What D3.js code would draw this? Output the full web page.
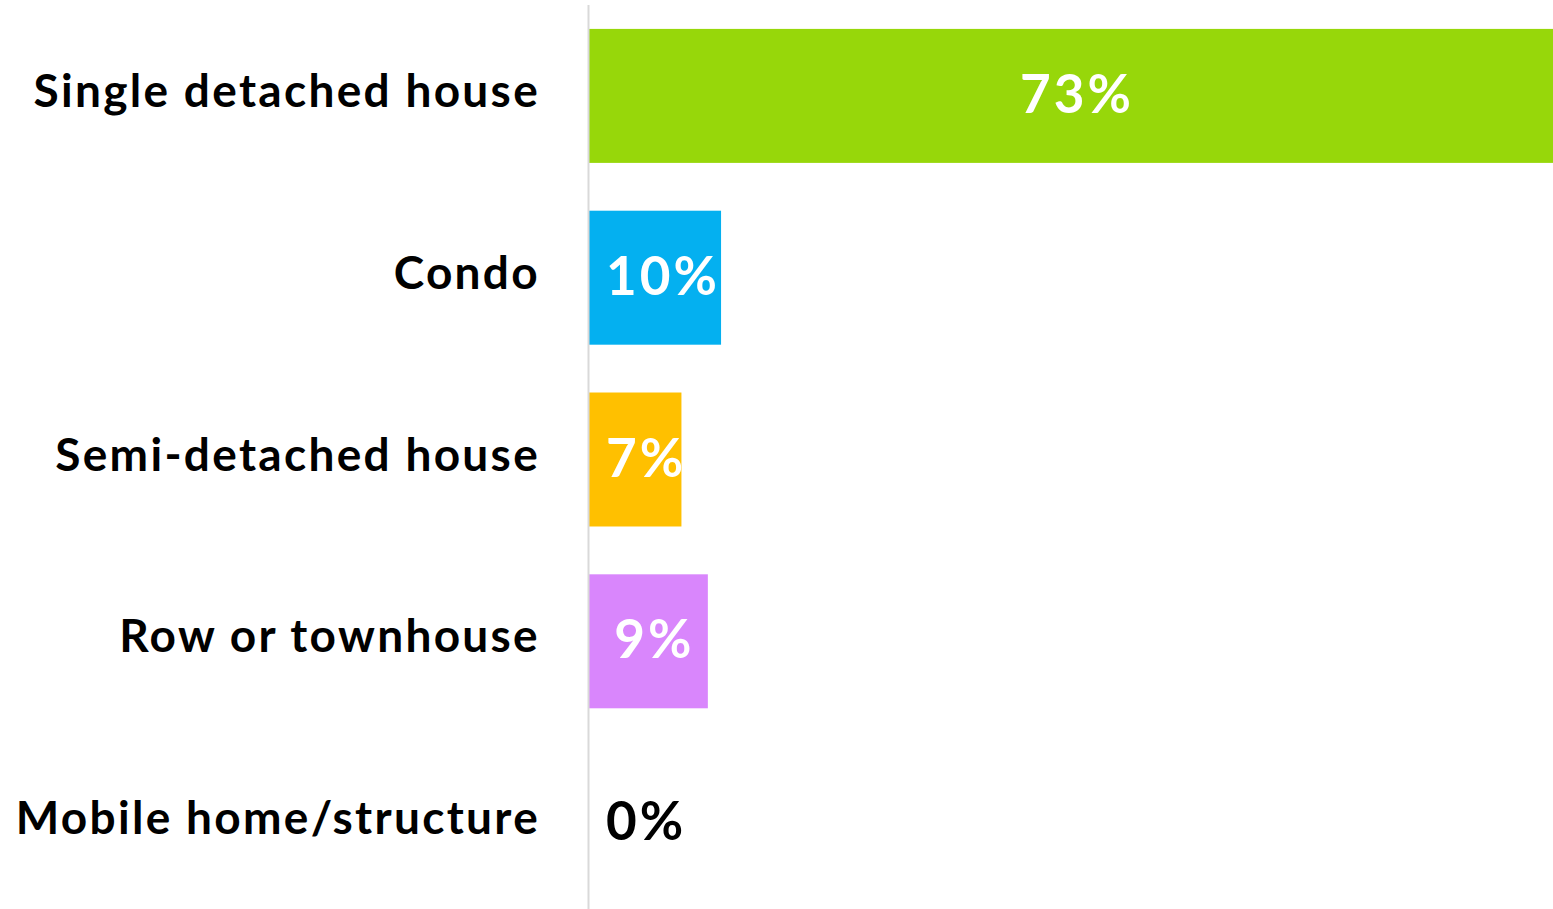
<!DOCTYPE html>
<html>
<head>
<meta charset="utf-8">
<script src="https://cdn.jsdelivr.net/npm/d3@7"></script>
<style>
  html, body { margin: 0; padding: 0; background: #fff; }
  svg { display: block; }
  text { font-family: Lato, "Open Sans", sans-serif; font-weight: 700; }
</style>
</head>
<body>
<svg id="chart"></svg>
<script>
const categories = ["Single detached house", "Condo", "Semi-detached house", "Row or townhouse", "Mobile home/structure"];
const values = [73, 10, 7, 9, 0];
const colors = ["#97d70a", "#04b0f0", "#ffc000", "#d986fc", "#ffffff"];

const width = 1553, height = 909;
const svg = d3.select("#chart").attr("width", width).attr("height", height);

const x = d3.scaleLinear().domain([0, 73]).range([589, 1553]);
const y = d3.scaleBand().domain(categories).range([5, 914])
  .paddingInner(0.263).paddingOuter(0.1315);

const data = categories.map((c, i) => ({cat: c, value: values[i], color: colors[i], i}));

// bars
svg.append("g").selectAll("rect")
  .data(data)
  .enter()
  .append("rect")
  .attr("x", x(0))
  .attr("y", d => y(d.cat))
  .attr("width", d => x(d.value) - x(0))
  .attr("height", y.bandwidth())
  .attr("fill", d => d.color);

// clip paths so labels stay inside their bar
const defs = svg.append("defs");
data.forEach(d => {
  defs.append("clipPath").attr("id", "clip" + d.i)
    .append("rect")
    .attr("x", x(0))
    .attr("y", y(d.cat))
    .attr("width", d.value > 0 ? x(d.value) - x(0) : width)
    .attr("height", y.bandwidth());
});

// axis line
svg.append("line")
  .attr("x1", 588.5).attr("x2", 588.5)
  .attr("y1", 5).attr("y2", height)
  .attr("stroke", "#d9d9d9")
  .attr("stroke-width", 2);

// category labels
svg.append("g").selectAll("text")
  .data(data)
  .enter()
  .append("text")
  .attr("x", 540)
  .attr("y", d => y(d.cat) + y.bandwidth() / 2 + 11)
  .attr("text-anchor", "end")
  .attr("font-size", 46)
  .attr("letter-spacing", 2.3)
  .attr("fill", "#000")
  .text(d => d.cat);

// value labels
const vl = svg.append("g").selectAll("text")
  .data(data)
  .enter()
  .append("text")
  .attr("clip-path", d => `url(#clip${d.i})`)
  .attr("y", d => y(d.cat) + y.bandwidth() / 2 + 17)
  .attr("font-size", 53)
  .attr("letter-spacing", 3)
  .attr("text-anchor", "middle")
  .attr("fill", d => d.value > 0 ? "#fff" : "#000")
  .text(d => d.value + "%");

vl.attr("x", function(d) {
  const w = this.getComputedTextLength();
  const center = (x(0) + x(d.value)) / 2 + 6;
  return Math.max(center, x(0) + 17 + w / 2);
});
</script>
</body>
</html>
